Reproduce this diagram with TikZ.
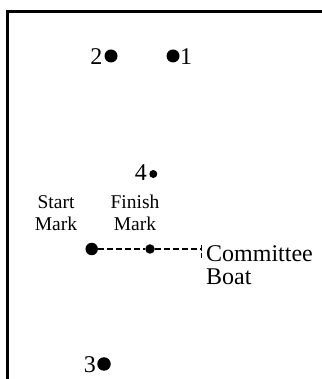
\documentclass[tikz,border=0pt]{standalone}
\usepackage{fontspec}
\setmainfont{Liberation Serif}
\begin{document}
\begin{tikzpicture}[x=1pt,y=1pt,
  buoy/.style={circle,fill,draw=none,inner sep=0pt,minimum size=#1},
  big/.style={inner sep=0pt,font=\fontsize{24}{23.3}\selectfont},
  small/.style={inner sep=0pt,align=center,font=\fontsize{19.5}{22.4}\selectfont}]
\useasboundingbox (0,0) rectangle (321,379);
\draw[line width=2.8pt] (7.5,0) -- (7.5,367.5) -- (322,367.5);
% marks
\node[buoy=13pt] (2) at (111,323) {};
\node[buoy=13pt] (1) at (173,323) {};
\node[buoy=8pt] (4) at (153.3,205) {};
\node[buoy=13.5pt] (3) at (104,15) {};
\node[big,anchor=base east] (l2) at (102.5,314) {2};
\node[big,anchor=base west] (l1) at (180,314) {1};
\node[big,anchor=base east] (l4) at (147,198) {4};
\node[big,anchor=base east] (l3) at (96,6) {3};
% start line
\node[buoy=12.5pt] (start) at (91.7,130) {};
\node[buoy=9.5pt] (finish) at (150,130) {};
\coordinate (boat) at (201.5,130);
\node[small,anchor=north] (ls) at (56,184) {Start\\Mark};
\node[small,anchor=north] (lf) at (135,184.5) {Finish\\Mark};
\node[big,align=left,anchor=north west] (lb) at (206,134) {Committee\\Boat};
\path[draw,line width=1.1pt,dash pattern=on 6pt off 3pt] (start) -- (finish);
\path[draw,line width=1.1pt,dash pattern=on 6pt off 3pt] (finish) -- (boat);
\path[draw,line width=1pt] ([yshift=4pt]boat) -- ([yshift=-2pt]boat);
\path[draw,line width=1pt] ([yshift=-4.5pt]boat) -- ([yshift=-9.5pt]boat);
\end{tikzpicture}
\end{document}
